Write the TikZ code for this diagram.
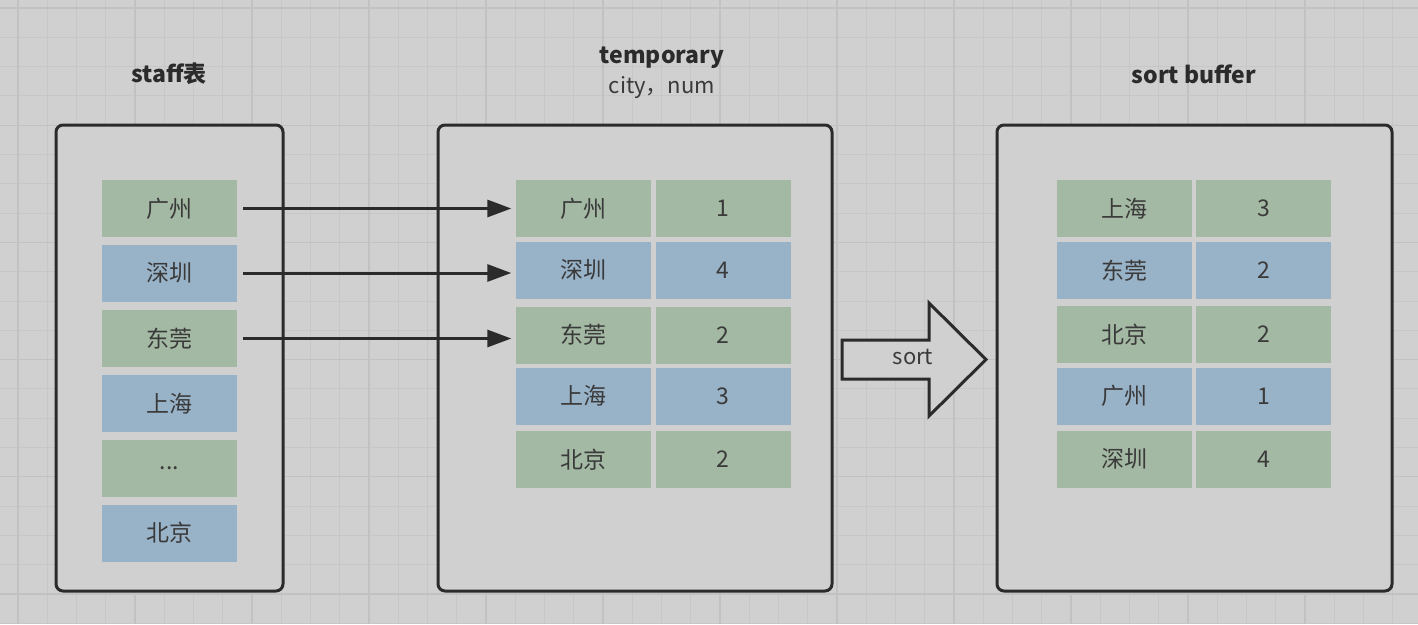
\documentclass[tikz,border=0pt]{standalone}
\usepackage{fontspec}
\setmainfont{Noto Sans CJK SC}
\usetikzlibrary{arrows.meta}
\definecolor{bg}{HTML}{D0D0D0}
\definecolor{gridc}{HTML}{C7C7C7}
\definecolor{gridm}{HTML}{C2C2C2}
\definecolor{cgreen}{HTML}{A3B9A3}
\definecolor{cblue}{HTML}{98B2C8}
\definecolor{ink}{HTML}{2B2B2B}
\definecolor{txt}{HTML}{3A3A3A}
\begin{document}
\begin{tikzpicture}[x=1pt,y=-1pt,
 frame/.style={draw=ink,fill=bg,line width=3pt,rounded corners=7pt},
 cell/.style={minimum width=135pt,minimum height=57pt,inner sep=0pt,text=txt,font=\fontsize{23}{27}\selectfont},
 g/.style={cell,fill=cgreen},
 b/.style={cell,fill=cblue},
 title/.style={font=\bfseries\fontsize{23}{28}\selectfont,text=ink},
 sub/.style={font=\fontsize{22}{26}\selectfont,text=txt},
 link/.style={draw=ink,line width=3pt,-{Triangle[length=24pt,width=17pt]}}]
\useasboundingbox (0,0) rectangle (1418,624);
\fill[bg] (0,0) rectangle (1418,624);
\foreach \i in {0,...,48} \draw[gridc,line width=1pt] ({18+29.25*\i},0) -- ({18+29.25*\i},624);
\foreach \i in {0,...,21} \draw[gridc,line width=1pt] (0,{8+29.3*\i}) -- (1418,{8+29.3*\i});
\foreach \i in {0,...,12} \draw[gridm,line width=1.3pt] ({18+29.25*4*\i},0) -- ({18+29.25*4*\i},624);
\foreach \i in {0,...,5} \draw[gridm,line width=1.3pt] (0,{8+29.3*4*\i}) -- (1418,{8+29.3*4*\i});

% frames
\draw[frame] (56,125) rectangle (283,591);
\draw[frame] (438,125) rectangle (832,591);
\draw[frame] (997,125) rectangle (1392,591);

% titles
\node[title] (tstaff) at (169,74) {staff表};
\node[title] (ttemp) at (662,58) {temporary};
\node[sub] (tcols) at (662,88) {city，num};
\node[title] (tsort) at (1194,74) {sort buffer};

% staff column
\node[g] (s1) at (169.5,208.5) {广州};
\node[b] (s2) at (169.5,273) {深圳};
\node[g] (s3) at (169.5,338.5) {东莞};
\node[b] (s4) at (169.5,403.5) {上海};
\node[g] (s5) at (169.5,468.5) {...};
\node[b] (s6) at (169.5,533) {北京};

% temporary
\node[g] (t1a) at (583,208.5) {广州};
\node[g] (t1b) at (723,208.5) {1};
\node[b] (t2a) at (583,270) {深圳};
\node[b] (t2b) at (723,270) {4};
\node[g] (t3a) at (583,335) {东莞};
\node[g] (t3b) at (723,335) {2};
\node[b] (t4a) at (583,396) {上海};
\node[b] (t4b) at (723,396) {3};
\node[g] (t5a) at (583,459.5) {北京};
\node[g] (t5b) at (723,459.5) {2};

% sort buffer
\node[g] (u1a) at (1124.5,208.5) {上海};
\node[g] (u1b) at (1263.5,208.5) {3};
\node[b] (u2a) at (1124.5,270.5) {东莞};
\node[b] (u2b) at (1263.5,270.5) {2};
\node[g] (u3a) at (1124.5,334.5) {北京};
\node[g] (u3b) at (1263.5,334.5) {2};
\node[b] (u4a) at (1124.5,396) {广州};
\node[b] (u4b) at (1263.5,396) {1};
\node[g] (u5a) at (1124.5,459) {深圳};
\node[g] (u5b) at (1263.5,459) {4};

% links
\draw[link,shorten <=6pt,shorten >=4pt] (s1.east) -- (s1.east -| t1a.west);
\draw[link,shorten <=6pt,shorten >=4pt] (s2.east) -- (s2.east -| t2a.west);
\draw[link,shorten <=6pt,shorten >=4pt] (s3.east) -- (s3.east -| t3a.west);

% sort arrow
\draw[draw=ink,fill=bg,line width=3pt,line join=miter] (842,340) -- (929,340) -- (929,303) -- (986,359.5) -- (929,416) -- (929,379) -- (842,379) -- cycle;
\node[sub] (lsort) at (913,357) {sort};
\end{tikzpicture}
\end{document}
